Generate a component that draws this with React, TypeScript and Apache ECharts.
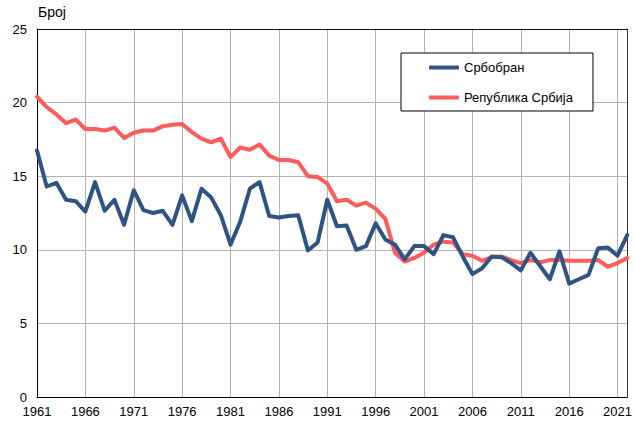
import React, { useEffect, useRef } from "react";
import * as echarts from "echarts";

const years: string[] = Array.from({ length: 62 }, (_, i) => String(1961 + i));

const srbobran: number[] = [
  16.75, 14.3, 14.55, 13.4, 13.3, 12.6, 14.6, 12.65, 13.4, 11.7,
  14.05, 12.7, 12.5, 12.65, 11.7, 13.7, 11.95, 14.15, 13.55, 12.35,
  10.35, 11.9, 14.15, 14.6, 12.3, 12.2, 12.3, 12.35, 9.95, 10.5,
  13.4, 11.6, 11.65, 10.0, 10.25, 11.8, 10.7, 10.35, 9.35, 10.25,
  10.25, 9.7, 11.0, 10.85, 9.55, 8.35, 8.75, 9.55, 9.5, 9.1,
  8.6, 9.8, 8.9, 8.0, 9.9, 7.7, 8.0, 8.3, 10.1, 10.15,
  9.6, 11.0,
];

const srbija: number[] = [
  20.4, 19.7, 19.2, 18.6, 18.85, 18.2, 18.2, 18.1, 18.3, 17.6,
  17.95, 18.1, 18.1, 18.4, 18.5, 18.55, 18.0, 17.55, 17.3, 17.55,
  16.3, 16.95, 16.8, 17.15, 16.4, 16.1, 16.1, 15.95, 15.0, 14.95,
  14.5, 13.3, 13.4, 13.0, 13.2, 12.8, 12.1, 9.8, 9.2, 9.45,
  9.8, 10.35, 10.55, 10.5, 9.7, 9.6, 9.25, 9.5, 9.55, 9.3,
  9.1, 9.3, 9.15, 9.3, 9.3, 9.25, 9.25, 9.25, 9.3, 8.85,
  9.1, 9.45,
];

const seriesNames = ["Србобран", "Република Србија"];
const yTicks = { min: 0, max: 25, interval: 5 };

export default function App() {
  const ref = useRef<HTMLDivElement>(null);
  useEffect(() => {
    if (!ref.current) return;
    const chart = echarts.init(ref.current, null, { renderer: "svg" });
    const font = "Liberation Sans, Arial, sans-serif";
    chart.setOption({
      animation: false,
      backgroundColor: "#fff",
      textStyle: { fontFamily: font },
      graphic: [
        {
          type: "text",
          left: 38,
          top: 5,
          style: { text: "Број", font: `14px ${font}`, fill: "#000" },
        },
      ],
      grid: {
        left: 37,
        right: 4,
        top: 29,
        bottom: 24,
        show: false,
      },
      legend: {
        orient: "vertical",
        left: 401,
        top: 53,
        padding: [8, 20, 7, 28],
        itemGap: 17,
        itemWidth: 30,
        itemHeight: 4,
        icon: "roundRect",
        borderColor: "#000",
        borderWidth: 1,
        backgroundColor: "#fff",
        textStyle: { fontSize: 13, color: "#000", fontFamily: font },
        data: seriesNames,
        z: 10,
      },
      xAxis: [
        {
          type: "category",
          data: years,
          boundaryGap: false,
          axisLine: { show: true, lineStyle: { color: "#000", width: 1 } },
          axisTick: { show: false },
          axisLabel: {
            interval: 4,
            fontSize: 13,
            color: "#000",
            margin: 8,
            fontFamily: font,
          },
          splitLine: {
            show: true,
            interval: 4,
            lineStyle: { color: "#b4b4b4", width: 1 },
          },
        },
        {
          type: "category",
          data: years,
          position: "top",
          boundaryGap: false,
          axisLine: { show: true, onZero: false, lineStyle: { color: "#111", width: 1 } },
          axisTick: { show: false },
          axisLabel: { show: false },
          splitLine: { show: false },
        },
      ],
      yAxis: [
        {
          type: "value",
          min: yTicks.min,
          max: yTicks.max,
          interval: yTicks.interval,
          axisLine: { show: true, lineStyle: { color: "#000", width: 1 } },
          axisTick: { show: false },
          axisLabel: { fontSize: 13, color: "#000", margin: 10, fontFamily: font },
          splitLine: { show: true, lineStyle: { color: "#b4b4b4", width: 1 } },
        },
        {
          type: "value",
          min: yTicks.min,
          max: yTicks.max,
          interval: yTicks.interval,
          position: "right",
          axisLine: { show: true, onZero: false, lineStyle: { color: "#333", width: 1 } },
          axisTick: { show: false },
          axisLabel: { show: false },
          splitLine: { show: false },
        },
      ],
      series: [
        {
          name: seriesNames[1],
          type: "line",
          data: srbija,
          showSymbol: false,
          symbol: "none",
          lineStyle: { color: "#ff5b5b", width: 4, cap: "round", join: "round" },
          itemStyle: { color: "#ff5b5b" },
          z: 2,
        },
        {
          name: seriesNames[0],
          type: "line",
          data: srbobran,
          showSymbol: false,
          symbol: "none",
          lineStyle: { color: "#2f5382", width: 4, cap: "round", join: "round" },
          itemStyle: { color: "#2f5382" },
          z: 3,
        },
      ],
    });
    return () => chart.dispose();
  }, []);
  return <div ref={ref} style={{ width: 635, height: 421, position: "absolute", left: 0, top: 0 }} />;
}
